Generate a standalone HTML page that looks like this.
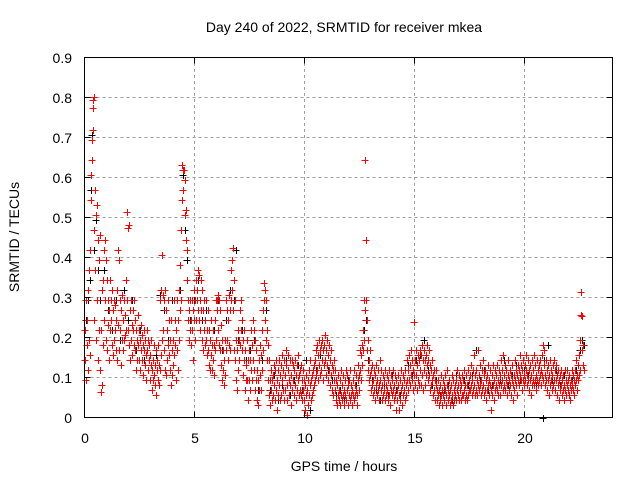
<!DOCTYPE html>
<html><head><meta charset="utf-8"><style>
body{margin:0;background:#fff;width:640px;height:480px;overflow:hidden}
svg{font-family:"Liberation Sans",sans-serif;font-size:14px}
</style></head><body>
<svg width="640" height="480" viewBox="0 0 640 480">
<defs>
<marker id="mr" markerUnits="userSpaceOnUse" markerWidth="8" markerHeight="8" refX="4" refY="4" overflow="visible"><path d="M0.5 4.5h7M4.5 1v7" stroke="#f00" stroke-width="1" fill="none"/></marker>
<marker id="mb" markerUnits="userSpaceOnUse" markerWidth="8" markerHeight="8" refX="4" refY="4" overflow="visible"><path d="M0.5 4.5h7M4.5 1v7" stroke="#000" stroke-width="1" fill="none"/></marker>
</defs>
<rect width="640" height="480" fill="#fff"/>
<g stroke="#a0a0a0" stroke-dasharray="3,3" stroke-width="1">
<path d="M84.5 377.5H612.5M84.5 337.5H612.5M84.5 297.5H612.5M84.5 257.5H612.5M84.5 217.5H612.5M84.5 177.5H612.5M84.5 137.5H612.5M84.5 97.5H612.5"/>
<path d="M194.5 57V417M304.5 57V417M414.5 57V417M524.5 57V417"/>
</g>
<polyline fill="none" stroke="none" marker-start="url(#mb)" marker-mid="url(#mb)" marker-end="url(#mb)" points="86,320 88,300 90,280 91,190 92,135 94,250 96,220 98,270 100,300 104,270 108,310 112,330 116,300 120,340 124,290 128,320 132,300 136,350 140,330 144,360 148,340 152,370 156,355 160,295 164,310 168,340 172,300 176,330 180,290 183,175 185,230 187,260 190,320 194,300 198,280 202,320 206,310 210,340 214,330 218,300 222,350 226,320 230,290 234,300 236,250 238,340 242,330 246,360 250,350 254,340 258,390 262,360 266,310 270,390 274,375 278,400 282,385 286,360 290,395 294,380 298,365 302,390 306,360 308,405 310,410 312,395 316,370 320,355 324,345 328,370 332,380 336,395 340,390 344,400 348,380 352,390 356,385 360,370 364,330 366,320 368,360 372,380 376,390 380,400 384,385 388,395 392,375 396,390 400,395 404,380 408,365 412,375 416,360 420,355 424,340 428,370 432,385 436,380 440,395 444,390 448,385 452,400 456,375 460,390 464,380 468,385 472,375 476,350 480,380 484,370 488,390 492,385 496,375 500,380 504,360 508,385 512,375 516,365 520,380 524,370 528,375 532,360 536,385 540,375 543,418 544,360 548,345 552,380 556,370 560,385 564,375 568,390 572,380 576,370 580,350 582,340 584,345"/>
<polyline fill="none" stroke="none" marker-start="url(#mr)" marker-mid="url(#mr)" marker-end="url(#mr)" points="85,330 85,360 86,300 86,380 87,345 87,320 88,290 88,370 89,270 89,340 90,250 90,355 91,200 91,175 92,140 92,160 93,100 93,108 93,130 94,97 94,230 94,320 95,190 95,270 96,215 96,340 97,205 97,300 98,240 98,360 99,260 99,330 100,235 100,370 101,330 101,392 102,385 102,290 103,280 103,345 104,250 104,320 105,240 105,300 106,260 106,340 107,280 107,350 108,300 108,325 109,310 109,360 110,330 110,280 111,320 111,300 112,345 112,290 113,355 113,310 114,340 114,300 115,330 115,305 116,350 116,320 117,290 117,360 118,250 118,325 119,260 119,350 120,330 120,300 121,310 121,365 122,295 122,340 123,320 123,350 124,300 124,340 125,315 125,335 126,330 126,280 127,212 127,300 128,228 128,330 129,225 129,345 130,310 130,360 131,300 131,340 132,325 132,355 133,330 133,310 134,345 134,300 135,350 135,320 136,330 136,370 137,340 137,360 138,345 138,315 139,330 139,360 140,340 140,370 141,350 141,325 142,360 142,335 143,345 143,375 144,350 144,330 145,365 145,340 146,355 146,380 147,350 147,330 148,340 148,370 149,360 149,345 150,355 150,380 151,365 151,340 152,370 152,390 153,360 153,380 154,345 154,375 155,365 155,385 156,350 156,395 157,370 157,360 158,380 158,345 159,385 159,365 160,300 160,370 161,290 161,355 162,255 162,340 163,295 163,330 164,300 164,350 165,290 165,370 166,310 166,375 167,330 167,360 168,300 168,345 169,320 169,355 170,340 170,370 171,320 171,385 172,350 172,375 173,340 173,365 174,300 174,355 175,320 175,345 176,330 176,380 177,300 177,350 178,320 178,370 179,290 179,340 180,310 180,265 181,300 181,230 182,165 182,200 183,170 183,190 184,170 185,180 185,215 186,210 186,240 187,250 187,280 188,300 188,320 189,310 189,340 190,330 190,300 191,320 191,345 192,300 192,330 193,310 193,360 194,320 194,290 195,300 195,340 196,280 196,320 197,300 197,290 198,270 198,310 199,275 199,320 200,300 200,330 201,280 201,310 202,290 202,340 203,310 203,350 204,300 204,330 205,320 205,345 206,300 206,340 207,330 207,355 208,310 208,350 209,330 209,365 210,340 210,370 211,355 211,320 212,345 212,370 213,330 213,360 214,345 214,375 215,350 215,320 216,300 216,340 217,310 217,300 218,295 218,330 219,300 219,345 220,310 220,350 221,325 221,365 222,340 222,380 223,350 223,370 224,360 224,385 225,340 225,375 226,350 226,300 227,310 227,340 228,320 228,360 229,295 229,345 230,310 230,350 231,300 231,270 232,260 232,290 233,248 233,310 234,280 234,350 235,300 235,360 236,340 236,380 237,350 237,390 238,370 238,330 239,340 239,360 240,310 240,345 241,330 241,300 242,320 242,350 243,340 243,375 244,360 244,330 245,350 245,390 246,365 246,380 247,340 247,380 248,360 248,400 249,380 249,350 250,390 250,360 251,330 251,370 252,345 252,380 253,320 253,360 254,330 254,370 255,340 255,390 256,350 256,380 257,370 257,400 258,380 258,405 259,390 259,360 260,375 260,345 261,355 261,390 262,330 262,370 263,310 263,350 264,283 264,300 265,290 265,320 266,300 266,340 267,330 267,360 268,345 268,380 269,360 269,395 270,380 270,405 271,390 271,370 272,400 272,380 273,375 273,395 274,385 274,365 275,370 275,400 276,360 276,390 277,380 277,410 278,370 278,395 279,360 279,385 280,375 280,400 281,365 281,395 282,380 282,355 283,390 283,370 284,360 284,400 285,375 285,390 286,365 286,350 287,385 287,400 288,370 288,355 289,380 289,395 290,360 290,385 291,375 291,405 292,360 292,390 293,380 293,365 294,395 294,370 295,360 295,385 296,375 296,400 297,390 297,365 298,355 298,380 299,375 299,395 300,370 300,390 301,365 301,395 302,380 302,400 303,390 303,370 304,400 304,380 305,410 305,385 306,395 306,375 307,415 307,390 308,380 308,405 309,370 309,395 310,385 310,360 311,380 311,400 312,375 312,395 313,370 313,390 314,385 314,365 315,360 315,380 316,350 316,375 317,345 317,370 318,355 318,380 319,340 319,365 320,350 320,375 321,345 321,370 322,340 322,360 323,350 323,380 324,345 324,365 325,335 325,360 326,350 326,375 327,340 327,365 328,355 328,380 329,345 329,370 330,360 330,385 331,350 331,375 332,365 332,390 333,370 333,395 334,380 334,360 335,390 335,370 336,400 336,380 337,385 337,405 338,375 338,395 339,390 339,400 340,380 340,405 341,395 341,370 342,385 342,400 343,375 343,395 344,390 344,405 345,380 345,395 346,370 346,400 347,390 347,375 348,385 348,405 349,395 349,380 350,370 350,400 351,385 351,395 352,390 352,405 353,380 353,395 354,370 354,400 355,385 355,395 356,375 356,390 357,395 357,405 358,380 358,365 359,390 359,375 360,370 360,350 361,355 361,380 362,345 362,365 363,350 363,330 364,300 364,340 365,160 365,310 366,240 366,300 367,320 367,350 368,340 368,370 369,360 369,380 370,350 370,375 371,370 371,390 372,365 372,385 373,380 373,395 374,370 374,390 375,375 375,400 376,385 376,365 377,380 377,395 378,370 378,390 379,385 379,400 380,380 380,360 381,390 381,370 382,385 382,400 383,375 383,395 384,390 384,380 385,370 385,400 386,385 386,395 387,375 387,390 388,380 388,400 389,395 389,370 390,385 390,405 391,390 391,375 392,380 392,395 393,370 393,390 394,385 394,400 395,375 395,395 396,380 396,410 397,390 397,400 398,385 398,375 399,395 399,410 400,380 400,400 401,390 401,370 402,385 402,405 403,375 403,395 404,390 404,380 405,400 405,370 406,385 406,395 407,380 407,360 408,370 408,390 409,355 409,380 410,365 410,385 411,350 411,375 412,360 412,380 413,370 413,390 414,322 414,375 415,360 415,385 416,350 416,375 417,365 417,390 418,355 418,380 419,360 419,385 420,350 420,370 421,355 421,385 422,345 422,375 423,360 423,390 424,350 424,370 425,360 425,385 426,355 426,375 427,345 427,365 428,360 428,380 429,350 429,375 430,365 430,390 431,370 431,385 432,360 432,380 433,375 433,395 434,370 434,390 435,380 435,400 436,385 436,370 437,390 437,400 438,380 438,395 439,390 439,405 440,385 440,400 441,395 441,375 442,390 442,405 443,380 443,395 444,400 444,385 445,375 445,390 446,395 446,405 447,385 447,370 448,390 448,400 449,380 449,395 450,390 450,405 451,385 451,400 452,395 452,375 453,380 453,405 454,390 454,400 455,385 455,395 456,380 456,400 457,390 457,370 458,385 458,395 459,375 459,400 460,390 460,380 461,385 461,400 462,395 462,375 463,380 463,395 464,390 464,370 465,385 465,400 466,395 466,375 467,385 467,400 468,370 468,395 469,380 469,390 470,390 470,375 471,365 471,385 472,380 472,395 473,370 473,390 474,385 474,355 475,375 475,395 476,390 476,370 477,380 477,395 478,350 478,385 479,375 479,390 480,365 480,385 481,380 481,395 482,370 482,390 483,385 483,360 484,375 484,395 485,390 485,370 486,380 486,400 487,375 487,390 488,385 488,365 489,380 489,395 490,370 490,385 491,390 491,410 492,375 492,395 493,385 493,365 494,380 494,400 495,370 495,390 496,385 496,375 497,390 497,365 498,380 498,395 499,370 499,385 500,375 500,395 501,360 501,385 502,380 502,370 503,390 503,355 504,375 504,385 505,365 505,390 506,380 506,370 507,385 507,395 508,375 508,360 509,390 509,380 510,370 510,385 511,395 511,375 512,380 512,365 513,385 513,400 514,375 514,390 515,360 515,380 516,385 516,370 517,375 517,395 518,365 518,380 519,385 519,370 520,375 520,355 521,380 521,365 522,370 522,390 523,360 523,380 524,375 524,385 525,365 525,380 526,370 526,355 527,385 527,375 528,360 528,380 529,370 529,390 530,380 530,365 531,375 531,395 532,360 532,385 533,370 533,380 534,385 534,355 535,365 535,380 536,375 536,390 537,360 537,380 538,370 538,385 539,380 539,365 540,375 540,360 541,370 541,385 542,355 542,375 543,345 543,380 544,365 544,350 545,375 545,385 546,360 546,380 547,370 547,390 548,365 548,380 549,375 549,395 550,360 550,385 551,380 551,370 552,375 552,390 553,365 553,385 554,380 554,360 555,370 555,390 556,380 556,365 557,375 557,395 558,370 558,385 559,380 559,400 560,390 560,375 561,385 561,370 562,395 562,380 563,375 563,390 564,385 564,400 565,370 565,390 566,380 566,395 567,385 567,370 568,390 568,380 569,375 569,395 570,385 570,400 571,380 571,390 572,370 572,385 573,390 573,375 574,380 574,395 575,370 575,385 576,380 576,360 577,375 577,390 578,365 578,380 579,355 579,375 580,340 580,370 581,292 581,315 582,316 582,350 583,345 583,365 584,370"/>
<rect x="84.5" y="57.5" width="528" height="360" fill="none" stroke="#000"/>
<g stroke="#000"><path d="M84.5 417.5h6M84.5 377.5h6M84.5 337.5h6M84.5 297.5h6M84.5 257.5h6M84.5 217.5h6M84.5 177.5h6M84.5 137.5h6M84.5 97.5h6M84.5 57.5h6M612.5 417.5h-6M612.5 377.5h-6M612.5 337.5h-6M612.5 297.5h-6M612.5 257.5h-6M612.5 217.5h-6M612.5 177.5h-6M612.5 137.5h-6M612.5 97.5h-6M84.5 417.5v-6M194.5 417.5v-6M304.5 417.5v-6M414.5 417.5v-6M524.5 417.5v-6M84.5 57.5v6M194.5 57.5v6M304.5 57.5v6M414.5 57.5v6M524.5 57.5v6"/></g>
<g text-anchor="end" fill="#000">
<text x="72" y="423">0</text><text x="72" y="383">0.1</text><text x="72" y="343">0.2</text><text x="72" y="303">0.3</text><text x="72" y="263">0.4</text><text x="72" y="223">0.5</text><text x="72" y="183">0.6</text><text x="72" y="143">0.7</text><text x="72" y="103">0.8</text><text x="72" y="63">0.9</text>
</g>
<g text-anchor="middle" fill="#000">
<text x="85" y="443">0</text><text x="195" y="443">5</text><text x="305" y="443">10</text><text x="415" y="443">15</text><text x="525" y="443">20</text>
<text x="344" y="32">Day 240 of 2022, SRMTID for receiver mkea</text>
<text x="344" y="471">GPS time / hours</text>
<text transform="translate(19,237) rotate(-90)">SRMTID / TECUs</text>
</g>
</svg>
</body></html>
